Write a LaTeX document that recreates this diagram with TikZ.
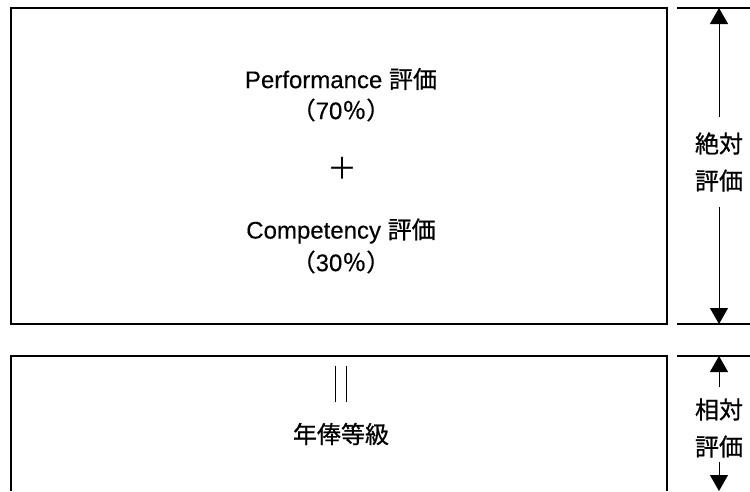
\documentclass[tikz,border=0pt]{standalone}
\usepackage{fontspec}
\setmainfont{Liberation Sans}[FakeBold=0.3]
\newfontfamily\cjk{Noto Sans CJK JP}[FakeBold=0.8]
\newfontfamily\cjkthin{Noto Sans CJK JP}
\usetikzlibrary{arrows.meta}
\begin{document}
\begin{tikzpicture}[x=1pt,y=-1pt,
  boxline/.style={line width=1.4pt},
  rule/.style={line width=1.2pt},
  arr/.style={line width=1pt,-{Triangle[width=18pt,length=16pt]}},
  txt/.style={inner sep=0pt,font=\fontsize{24}{31}\selectfont},
  side/.style={inner sep=0pt,align=center,font=\fontsize{24}{37}\selectfont\cjk}]
\useasboundingbox (0,0) rectangle (750,491);
% boxes
\draw[boxline] (11,8) rectangle (667,324);
\draw[boxline] (11,491) -- (11,356) -- (667,356) -- (667,491);
% right rules
\draw[rule] (677,8) -- (750,8);
\draw[rule] (677,324) -- (750,324);
\draw[rule] (677,356) -- (750,356);
% texts
\node[txt] (perf) at (341,79) {Performance {\cjk 評価}};
\node[txt] (p70) at (341,110) {{\cjk （}70{\cjk ％）}};
\node[txt,font=\fontsize{30}{30}\selectfont] (plus) at (342,168) {{\cjkthin ＋}};
\node[txt] (comp) at (341,231) {Competency {\cjk 評価}};
\node[txt] (p30) at (341,262) {{\cjk （}30{\cjk ％）}};
\node[txt] (grade) at (341,434) {{\cjk 年俸等級}};
% equals (vertical)
\coordinate (e1a) at (335,366); \coordinate (e1b) at (335,402);
\coordinate (e2a) at (346,366); \coordinate (e2b) at (346,402);
\draw[line width=1pt] (e1a) -- (e1b);
\draw[line width=1pt] (e2a) -- (e2b);
% side labels
\node[side] (abs) at (719,162) {絶対\\評価};
\node[side] (rel) at (719,428) {相対\\評価};
\coordinate (absT) at (719,117); \coordinate (absTop) at (719,8);
\coordinate (absB) at (719,207); \coordinate (absBot) at (719,324);
\coordinate (relT) at (719,387); \coordinate (relTop) at (719,356);
\coordinate (relB) at (719,462); \coordinate (relBot) at (719,491);
\draw[arr] (absT) -- (absTop);
\draw[arr] (absB) -- (absBot);
\draw[arr] (relT) -- (relTop);
\draw[arr] (relB) -- (relBot);
\end{tikzpicture}
\end{document}
